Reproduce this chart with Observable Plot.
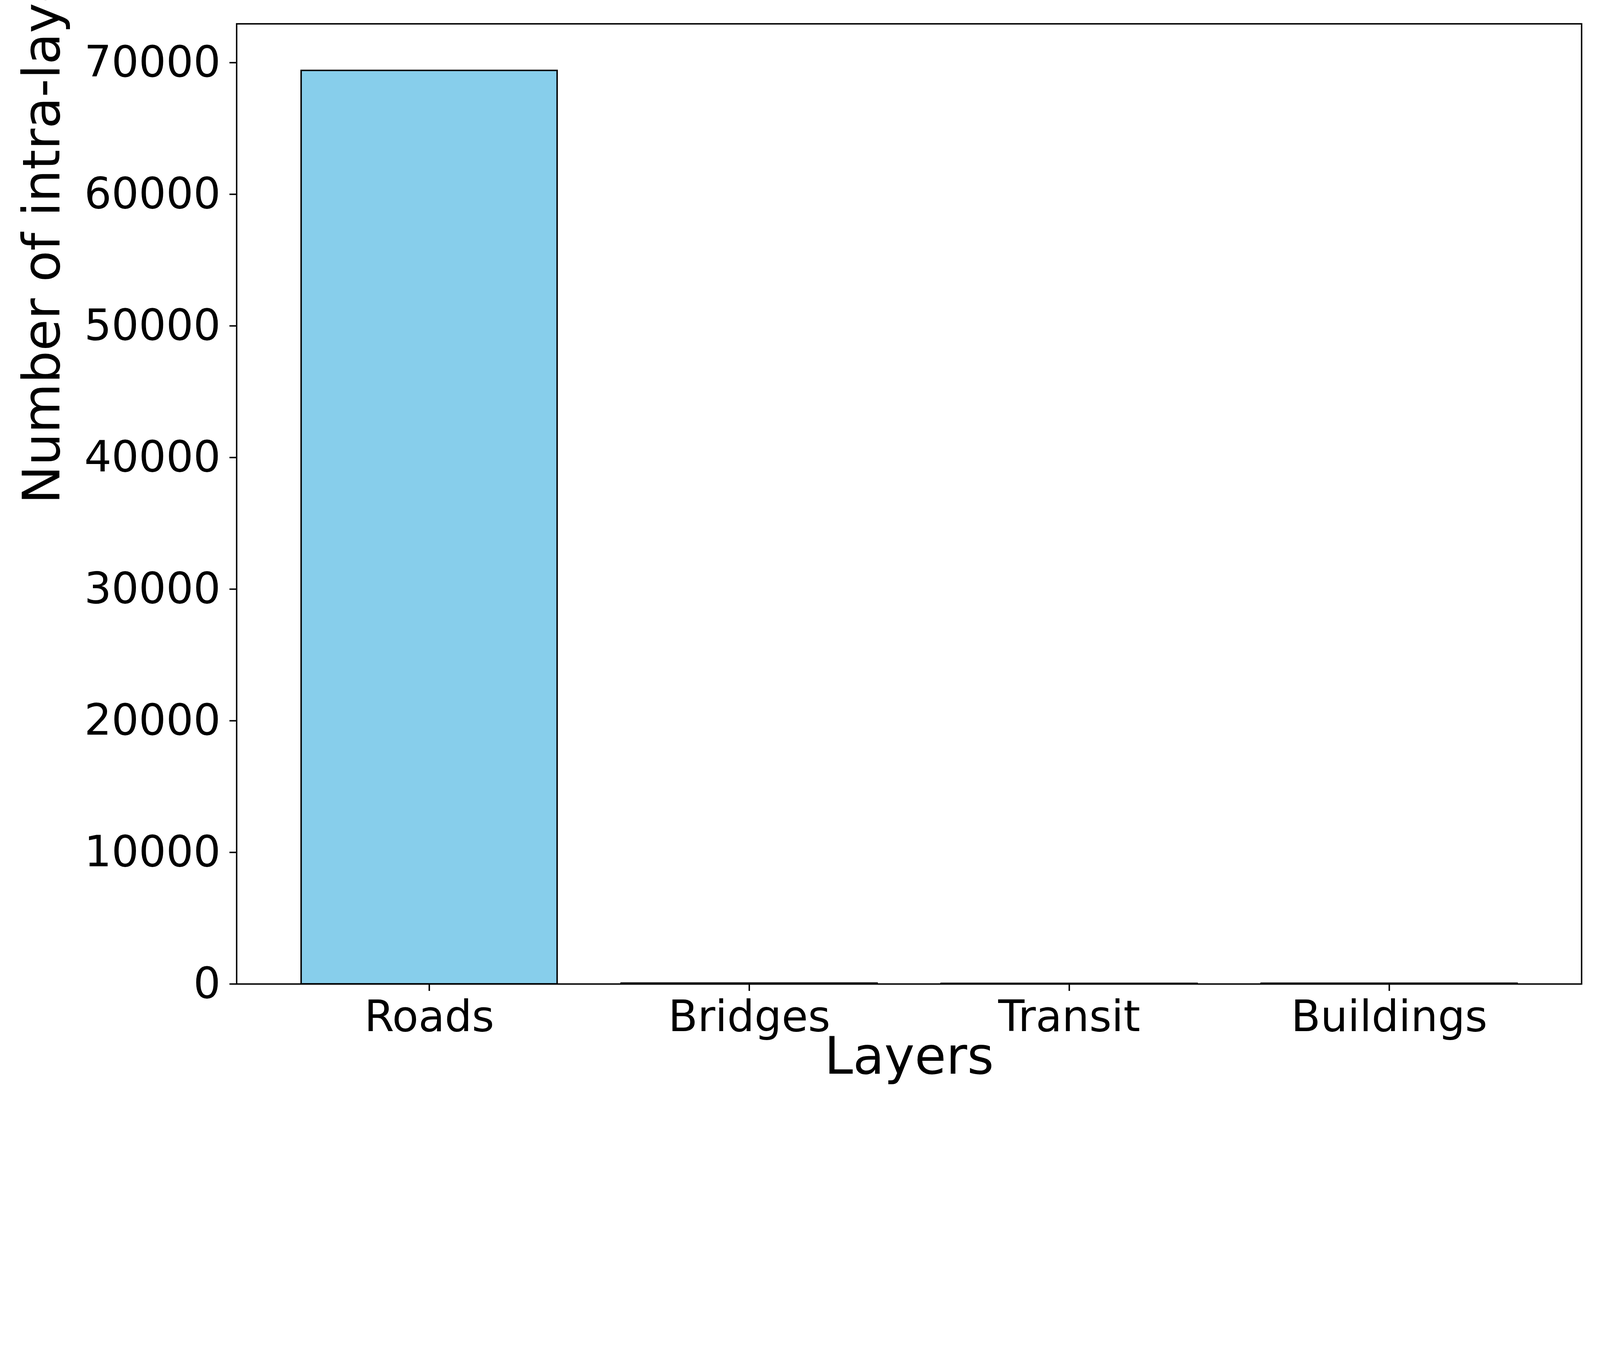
<!DOCTYPE html>
<html>
<head>
<meta charset="utf-8">
<script src="https://cdn.jsdelivr.net/npm/d3@7"></script>
<script src="https://cdn.jsdelivr.net/npm/@observablehq/plot@0.6"></script>
<style>html,body{margin:0;background:#fff;overflow:hidden}svg{display:block}</style>
</head>
<body>
<div id="chart"></div>
<script>
// layer names and intra-layer edge counts
const layers = ["Roads", "Bridges", "Transit", "Buildings"]
const edges = [69400, 60, 40, 50]
const yTicks = [0, 10000, 20000, 30000, 40000, 50000, 60000, 70000]

const data = layers.map((layer, i) => ({layer, edges: edges[i]}))

const chart = Plot.plot({
  width: 5000,
  height: 3500,
  marginTop: 74,
  marginRight: 58,
  marginBottom: 425,
  marginLeft: 739,
  style: {fontFamily: "DejaVu Sans", fontSize: "134px", color: "#000", background: "#fff"},
  x: {domain: layers, padding: 0.2, label: null},
  y: {domain: [0, 72950], label: null},
  marks: [
    Plot.barY(data, {x: "layer", y: "edges", fill: "#87ceeb", stroke: "#000", strokeWidth: 4.5}),
    Plot.frame({stroke: "#000", strokeWidth: 4.5}),
    Plot.axisX({tickSize: 22, tickPadding: 30, fontSize: 134, strokeWidth: 4.5}),
    Plot.axisY({ticks: yTicks, tickFormat: d => String(d), tickSize: 22, tickPadding: 28, fontSize: 134, strokeWidth: 4.5}),
    Plot.text(["Layers"], {frameAnchor: "bottom", dy: 280, fontSize: 160, fill: "#000"}),
    Plot.text(["Number of intra-layer edges"], {frameAnchor: "left", dx: -605, rotate: -90, fontSize: 160, fill: "#000"})
  ]
})
document.getElementById("chart").append(chart)
</script>
</body>
</html>
